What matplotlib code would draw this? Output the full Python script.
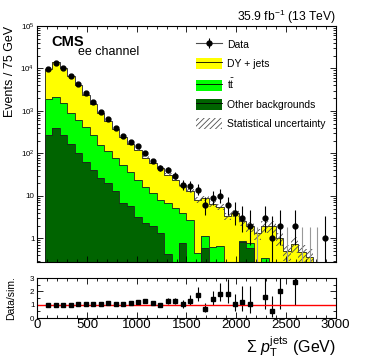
import numpy as np
import matplotlib
matplotlib.use('Agg')
import matplotlib.pyplot as plt
from matplotlib.patches import Patch
from matplotlib.lines import Line2D
from matplotlib.ticker import MultipleLocator, FixedLocator, LogLocator, NullFormatter, FixedFormatter

plt.rcParams['font.family'] = ['Liberation Sans', 'DejaVu Sans']
plt.rcParams['mathtext.fontset'] = 'custom'
plt.rcParams['mathtext.rm'] = 'Liberation Sans'
plt.rcParams['mathtext.it'] = 'Liberation Sans:italic'
plt.rcParams['hatch.linewidth'] = 0.6

# bins of 75 GeV, starting at 75 GeV
edges = np.arange(75, 3001, 75)

data = [9800, 13800, 10000, 6600, 4200, 2600, 1590, 960, 650, 390,
        260, 187, 148, 100, 66, 45, 40, 30, 18, 17,
        14, 6, 9, 10, 6, 4, 3, 2, 0, 3,
        1, 2, 0, 2, 0, 0, 0, 1, 0]
# stack tops: total (DY + tt + other), tt + other, other
total = [9800, 14200, 10000, 6600, 4000, 2430, 1490, 900, 565, 370,
         248, 170, 123, 80, 59, 46, 31.5, 24, 17.6, 13,
         8.0, 8.7, 6.4, 5.5, 3.3, 3.9, 2.5, 1.9, 1.3, 1.95,
         1.95, 1.0, 0.5, 0.75, 0.48, 0.37, 0, 0, 0]
tt_other = [1960, 2140, 1500, 900, 610, 410, 270, 160, 115, 76,
            53, 37, 23, 16, 11.4, 7.9, 6.7, 5.1, 4.0, 2.7,
            0.45, 1.15, 0.61, 0.66, 0, 0, 0.88, 0.76, 0, 0.34,
            0, 0, 0, 0, 0, 0, 0, 0, 0]
other = [270, 390, 270, 166, 100, 63, 40, 26, 19.6, 13,
         6.7, 5.7, 3.2, 2.25, 1.9, 1.3, 0.42, 0, 0.76, 0,
         0, 0.58, 0, 0, 0, 0, 0.8, 0.58, 0, 0,
         0, 0, 0, 0, 0, 0, 0, 0, 0]
# relative statistical uncertainty of the simulation
rel_unc = [0.01, 0.01, 0.01, 0.015, 0.015, 0.02, 0.02, 0.025, 0.03, 0.03,
           0.04, 0.04, 0.05, 0.06, 0.06, 0.07, 0.08, 0.09, 0.10, 0.11,
           0.15, 0.15, 0.16, 0.17, 0.2, 0.2, 0.22, 0.25, 0.3, 0.3,
           0.3, 0.35, 0.4, 0.4, 0.45, 0.5, 0, 0, 0]
zero_err_bins = [29, 33, 35, 36, 37]

data = np.array(data, float)
total = np.array(total, float)
tt_other = np.array(tt_other, float)
other = np.array(other, float)
rel_unc = np.array(rel_unc, float)
centers = 0.5 * (edges[:-1] + edges[1:])

# Poisson (Garwood-like) intervals, Wilson-Hilferty approximation
n = data
lo = np.where(n > 0, n * (1 - 1 / (9 * np.maximum(n, 1)) - 1 / (3 * np.sqrt(np.maximum(n, 1)))) ** 3, 0)
hi = (n + 1) * (1 - 1 / (9 * (n + 1)) + 1 / (3 * np.sqrt(n + 1))) ** 3
err_lo = n - lo
err_hi = hi - n

fig = plt.figure(figsize=(3.74, 3.59), dpi=100)
ax = fig.add_axes([0.0997, 0.2702, 0.7979, 0.6574])
rax = fig.add_axes([0.0997, 0.1142, 0.7979, 0.1114])

floor = 1e-3
edge_col = '#202020'
for vals, col in [(total, '#ffff00'), (tt_other, '#00ff00'), (other, '#006400')]:
    v = np.maximum(vals, floor)
    ax.stairs(v, edges, baseline=floor, fill=True, facecolor=col, edgecolor='none')
    ax.stairs(v, edges, baseline=floor, fill=False, color=edge_col, lw=0.6)

# statistical uncertainty band
has = total > 0
band_lo = np.where(has, total * (1 - rel_unc), floor)
band_hi = np.where(has, total * (1 + rel_unc), floor)
ax.stairs(band_hi, edges, baseline=band_lo, fill=True, facecolor='none',
          edgecolor='0.3', hatch='//////', lw=0)

# data
m = data > 0
dat = ax.errorbar(centers[m], data[m], yerr=[err_lo[m], err_hi[m]], fmt='o', color='k',
                  ms=3.5, lw=0.8, capsize=0)
zb = np.array(zero_err_bins) - 1
ax.vlines(centers[zb], floor, err_hi[zb], color='0.6', lw=0.8)

ax.set_yscale('log')
ax.set_xlim(0, 3000)
ax.set_ylim(0.277, 1e5)
ax.yaxis.set_major_locator(FixedLocator([1, 10, 1e2, 1e3, 1e4, 1e5]))
ax.yaxis.set_major_formatter(FixedFormatter(['1', '10', '$10^{2}$', '$10^{3}$', '$10^{4}$', '$10^{5}$']))
ax.yaxis.set_minor_locator(LogLocator(base=10, subs=np.arange(2, 10), numticks=20))
ax.yaxis.set_minor_formatter(NullFormatter())
ax.xaxis.set_major_locator(MultipleLocator(500))
ax.xaxis.set_minor_locator(MultipleLocator(100))
ax.tick_params(axis='x', labelbottom=False)
ax.tick_params(axis='y', labelsize=5.8, pad=2)
ax.set_ylabel('Events / 75 GeV', loc='top', fontsize=9, labelpad=3)

# ratio
rm = (data > 0) & (total > 0)
ratio = data[rm] / total[rm]
rax.errorbar(centers[rm], ratio, yerr=[err_lo[rm] / total[rm], err_hi[rm] / total[rm]],
             fmt='s', color='k', ms=2.2, lw=0.8, capsize=0)
rax.axhline(1, color='red', lw=1.0)
rax.set_xlim(0, 3000)
rax.set_ylim(0, 3)
rax.yaxis.set_major_locator(MultipleLocator(1))
rax.yaxis.set_minor_locator(MultipleLocator(0.5))
rax.xaxis.set_major_locator(MultipleLocator(500))
rax.xaxis.set_minor_locator(MultipleLocator(100))
rax.tick_params(axis='x', labelsize=9.5, pad=1)
rax.tick_params(axis='y', labelsize=5.8, pad=2)
rax.set_ylabel('Data/sim.', fontsize=7.5, labelpad=10)
rax.set_xlabel(r'$\Sigma\ p_{\mathrm{T}}^{\mathrm{jets}}$ (GeV)', loc='right', fontsize=11.5, labelpad=2)

for a in (ax, rax):
    a.tick_params(which='both', direction='in', top=True, right=True, width=0.6)
    a.tick_params(which='major', length=4)
    a.tick_params(which='minor', length=2)
    for s in a.spines.values():
        s.set_linewidth(0.8)

ax.text(0.048, 0.917, 'CMS', transform=ax.transAxes, fontsize=10.5, fontweight='bold', va='baseline')
ax.text(0.136, 0.877, 'ee channel', transform=ax.transAxes, fontsize=9, va='baseline')
fig.text(0.898, 0.942, r'35.9 fb$^{-1}$ (13 TeV)', ha='right', va='baseline', fontsize=8.7)

line = Line2D([], [], color='k', lw=0.6)
handles = [(Line2D([], [], color='0.3', lw=0.8), dat),
           (Patch(facecolor='#ffff00', edgecolor='none'), line),
           (Patch(facecolor='#00ff00', edgecolor='none'), line),
           (Patch(facecolor='#006400', edgecolor='none'), line),
           Patch(facecolor='none', edgecolor='0.3', hatch='//////', lw=0)]
labels = ['Data', 'DY + jets', r't$\bar{\mathrm{t}}$', 'Other backgrounds', 'Statistical uncertainty']
ax.legend(handles, labels, loc='upper left', bbox_to_anchor=(0.524, 0.893),
          bbox_transform=fig.transFigure, frameon=False, fontsize=7.5,
          handlelength=2.5, handleheight=1.3, labelspacing=0.75, handletextpad=0.5,
          borderpad=0, borderaxespad=0)

fig.savefig('out.png', dpi=100)
